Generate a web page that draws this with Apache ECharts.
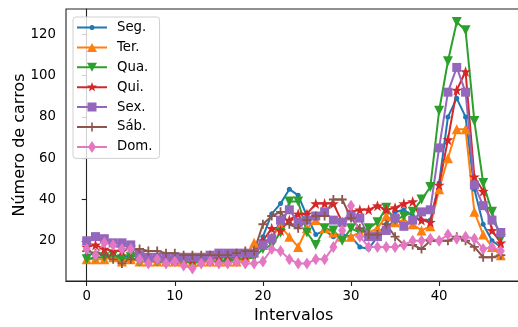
<!DOCTYPE html>
<html>
<head>
<meta charset="utf-8">
<script src="https://cdn.jsdelivr.net/npm/echarts@6/dist/echarts.min.js"></script>
<style>
html,body{margin:0;padding:0;background:#fff;}
#chart{width:518px;height:327px;}
</style>
</head>
<body>
<div id="chart"></div>
<script>
// ---- data ----
var seriesNames = ['Seg.', 'Ter.', 'Qua.', 'Qui.', 'Sex.', 'Sáb.', 'Dom.'];
var seg = [13,14,13,13,12,13,12,11,10,10,10,10,10,10,10,10,11,11,11,13,22,33,38,45,42,32,23,25,22,23,22,17,16,22,28,34,35,32,30,30,48,80,89,80,45,28,20,17];
var ter = [11,11,11,12,10,11,10,10,10,10,10,10,10,10,10,10,10,10,12,19,18,22,27,22,17,26,30,26,24,22,22,24,24,26,32,29,30,28,25,27,45,60,74,74,34,23,17,13];
var qua = [11,12,12,13,11,12,10,10,10,9,10,10,9,10,10,10,10,11,11,12,16,18,24,39,39,24,18,26,25,20,26,24,26,29,36,30,32,34,40,46,83,107,126,122,78,48,34,21];
var qui = [17,18,16,15,15,17,14,12,12,11,11,11,11,11,11,12,12,12,13,15,20,26,25,30,33,33,38,38,38,29,34,35,35,37,35,36,38,39,30,29,47,69,93,102,51,44,25,19];
var sex = [20,22,21,19,19,18,13,12,12,12,12,12,12,12,13,14,14,14,14,14,18,21,30,35,29,30,32,34,30,29,32,31,22,22,25,31,27,30,34,35,65,92,104,92,47,37,30,24];
var sab = [15,14,13,11,9,11,16,15,15,14,14,13,13,13,13,13,13,14,15,15,28,32,34,28,26,30,32,32,40,40,31,26,23,23,28,22,18,18,16,20,20,20,22,20,17,12,12,13];
var dom = [16,13,19,18,16,16,11,9,11,9,10,8,6.5,9,10,9,9,10,9,9,10,16,15,11,9,9,11,11,17,25,37,22,17,17,17,17,18,20,20,21,20,23,21,22,21,16,17,15];
var xTicks = [0, 10, 20, 30, 40];
var yTicks = [20, 40, 60, 80, 100, 120];

var values = [seg, ter, qua, qui, sex, sab, dom];
var colors = ['#1f77b4', '#ff7f0e', '#2ca02c', '#d62728', '#9467bd', '#8c564b', '#e377c2'];

function starPath(cx, cy, ro, ri) {
  var s = '';
  for (var j = 0; j < 10; j++) {
    var a = -Math.PI / 2 + j * Math.PI / 5;
    var r = j % 2 === 0 ? ro : ri;
    s += (j === 0 ? 'M' : 'L') + (cx + r * Math.cos(a)).toFixed(3) + ',' + (cy + r * Math.sin(a)).toFixed(3) + ' ';
  }
  return s + 'Z';
}
var symbols = [
  'circle',
  'triangle',
  'path://M0,0 L10,0 L5,9 Z',
  'path://' + starPath(50, 50, 50, 20),
  'rect',
  'path://M4,0 H6 V4 H10 V6 H6 V10 H4 V6 H0 V4 H4 Z',
  'diamond'
];
var sizes = [5, 10, 10, 11, 9, 9, [8, 12]];

// legend icons (line + marker) in a 30x13 box
var corners = 'M0,0 L0.01,0 L0,0.01 Z M30,13 L29.99,13 L30,12.99 Z ';
var lineRect = 'M0,5.5 L30,5.5 L30,7.5 L0,7.5 Z ';
var legendMarks = [
  'M12.5,6.5 A2.5,2.5 0 1,1 17.5,6.5 A2.5,2.5 0 1,1 12.5,6.5 Z',
  'M10,11 L15,2 L20,11 Z',
  'M10,2 L20,2 L15,11 Z',
  starPath(15, 6.5, 5.2, 2.1),
  'M10.5,2 L19.5,2 L19.5,11 L10.5,11 Z',
  'M14.2,2 L15.8,2 L15.8,11 L14.2,11 Z',
  'M15,0.5 L19,6.5 L15,12.5 L11,6.5 Z'
];

var font = 'DejaVu Sans';
var series = values.map(function (arr, k) {
  return {
    name: seriesNames[k],
    type: 'line',
    data: arr.map(function (v, i) { return [i, v]; }),
    symbol: symbols[k],
    symbolSize: sizes[k],
    showAllSymbol: true,
    lineStyle: { color: colors[k], width: 2 },
    itemStyle: { color: colors[k], borderWidth: 0 },
    emphasis: { disabled: true },
    clip: false
  };
});

var chart = echarts.init(document.getElementById('chart'), null, { renderer: 'canvas' });
chart.setOption({
  animation: false,
  backgroundColor: '#fff',
  color: colors,
  textStyle: { fontFamily: font },
  grid: {
    left: 66, top: 9, width: 455.5, height: 272,
    outerBoundsMode: 'none', containLabel: false,
    show: true, borderColor: '#222', borderWidth: 1.1, backgroundColor: 'transparent'
  },
  legend: {
    orient: 'vertical',
    left: 73, top: 17,
    padding: [4, 7, 5, 4],
    itemWidth: 30, itemHeight: 13, itemGap: 6.9,
    symbolKeepAspect: true,
    borderColor: '#d0d0d0', borderWidth: 1, borderRadius: 3,
    backgroundColor: 'rgba(255,255,255,0.8)',
    textStyle: { fontFamily: font, fontSize: 13.3, color: '#000', padding: [0, 0, 0, 5] },
    data: seriesNames.map(function (n, k) {
      return { name: n, icon: 'path://' + corners + lineRect + legendMarks[k], itemStyle: { color: colors[k], borderWidth: 0 } };
    })
  },
  xAxis: {
    type: 'value',
    min: -2.35, max: 49.35,
    name: 'Intervalos',
    nameLocation: 'middle', nameGap: 27, nameMoveOverlap: false,
    nameTextStyle: { fontFamily: font, fontSize: 16, color: '#000' },
    axisLine: { show: true, lineStyle: { color: '#222', width: 1.1 } },
    axisTick: { show: true, inside: false, length: 5, customValues: xTicks, lineStyle: { color: '#222', width: 1.1 } },
    axisLabel: { customValues: xTicks, margin: 9, fontFamily: font, fontSize: 13.3, color: '#000' },
    splitLine: { show: false }
  },
  yAxis: {
    type: 'value',
    min: 0.5, max: 132.3,
    name: 'Número de carros',
    nameLocation: 'middle', nameGap: 38, nameMoveOverlap: false,
    nameTextStyle: { fontFamily: font, fontSize: 16, color: '#000' },
    axisLine: { show: true, lineStyle: { color: '#222', width: 1.1 } },
    axisTick: { show: true, inside: false, length: 5, customValues: yTicks, lineStyle: { color: '#222', width: 1.1 } },
    axisLabel: { customValues: yTicks, margin: 10, fontFamily: font, fontSize: 13.3, color: '#000' },
    splitLine: { show: false }
  },
  series: series
});
</script>
</body>
</html>
